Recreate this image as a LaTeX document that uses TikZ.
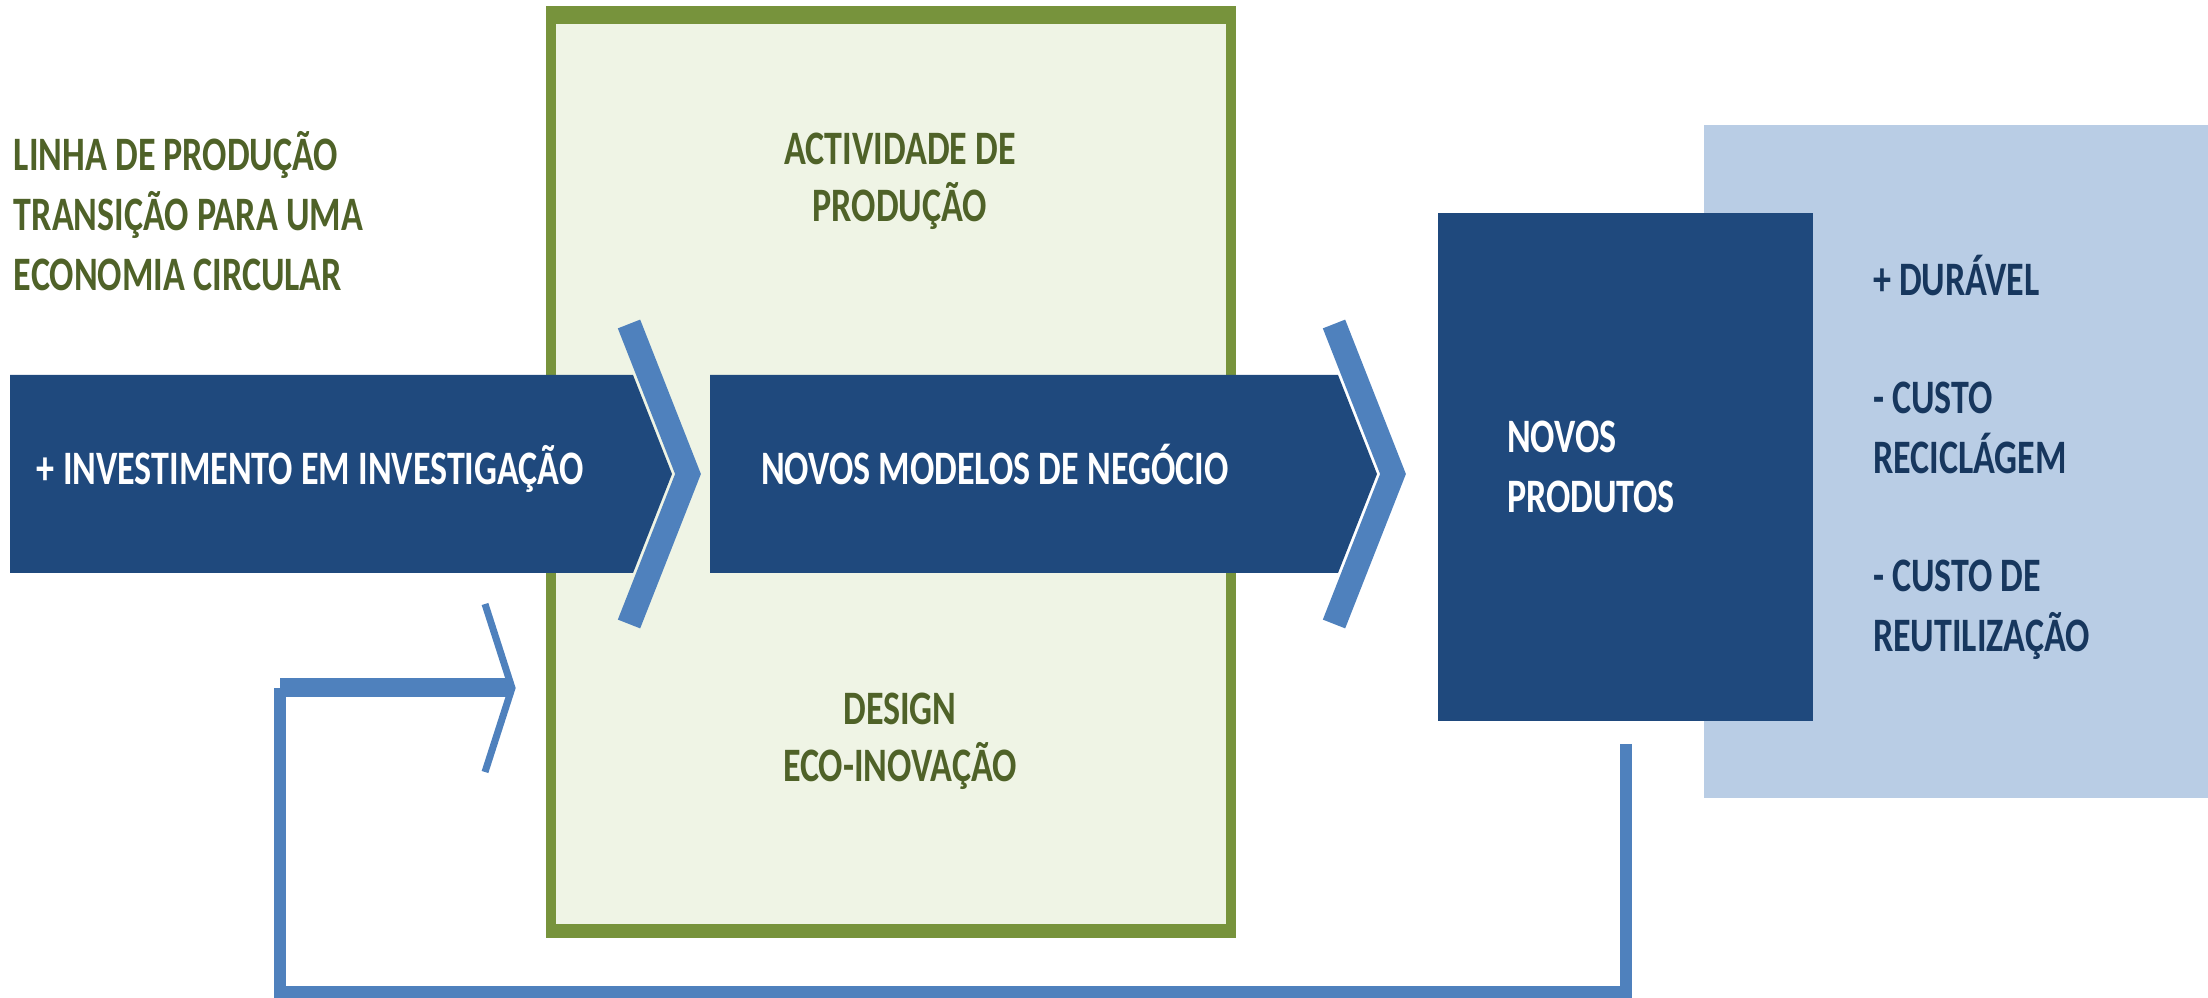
\documentclass[tikz,border=0pt]{standalone}
\usepackage{fontspec}
\setmainfont{Carlito}[FakeStretch=0.75]
\definecolor{darkblue}{HTML}{1F497D}
\definecolor{midblue}{HTML}{4F81BD}
\definecolor{lightblue}{HTML}{B9CDE5}
\definecolor{olivegreen}{HTML}{77933C}
\definecolor{palegreen}{HTML}{EFF4E5}
\definecolor{olivetext}{HTML}{4F6228}
\definecolor{navytext}{HTML}{17375E}
\begin{document}
\begin{tikzpicture}[x=0.01cm,y=-0.01cm,
  txt/.style={font=\fontsize{13.66}{17}\selectfont\bfseries, inner sep=0pt, outer sep=0pt},
  wtxt/.style={txt, text=white},
  otxt/.style={txt, text=olivetext},
  ntxt/.style={txt, text=navytext},
  chevron/.style={draw=midblue, line width=0.24cm, line join=miter, line cap=butt},
  thinchevron/.style={draw=midblue, line width=0.07cm, line join=miter, line cap=butt},
  feedback/.style={draw=midblue, line width=0.115cm, line join=miter, line cap=butt},
  feedbackbar/.style={draw=midblue, line width=0.19cm, line cap=butt},
  block/.style={fill=darkblue}]
\useasboundingbox (0,0) rectangle (2208,998);

% green box
\fill[olivegreen] (546,6) rectangle (1236,938);
\fill[palegreen] (556,24) rectangle (1226,924);

% dark blocks with chevron ends
\fill[block] (10,375) -- (633,375) -- (672,474) -- (633,573) -- (10,573) -- cycle;
\fill[block] (710,375) -- (1338,375) -- (1377,474) -- (1338,573) -- (710,573) -- cycle;

% chevrons
\draw[chevron] (629,324) -- (688,474) -- (629,624);
\draw[chevron] (1334,324) -- (1393,474) -- (1334,624);

% light blue panel and products block
\fill[lightblue] (1704,125) rectangle (2208,798);
\fill[block] (1438,213) rectangle (1813,721);

% feedback loop
\coordinate (fbstart) at (1626,744);
\coordinate (fbcorner) at (280,688);
\coordinate (fbend) at (512,688);
\draw[feedback] (fbstart) -- (1626,992) -- (280,992) -- (fbcorner);
\draw[feedbackbar] (fbcorner) -- (fbend);
\draw[thinchevron] (485,604) -- (fbend) -- (485,772);

% texts
\node[otxt, anchor=base west] (title1) at (14,171) {LINHA DE PRODUÇÃO};
\node[otxt, anchor=base west] (title2) at (14,231) {TRANSIÇÃO PARA UMA};
\node[otxt, anchor=base west] (title3) at (14,291) {ECONOMIA CIRCULAR};

\node[wtxt, anchor=base west] (invest) at (37,485) {+ INVESTIMENTO EM INVESTIGAÇÃO};
\node[wtxt, anchor=base west] (modelos) at (761,485) {NOVOS MODELOS DE NEGÓCIO};

\node[otxt, anchor=base] (activ1) at (900,165) {ACTIVIDADE DE};
\node[otxt, anchor=base] (activ2) at (900,222) {PRODUÇÃO};
\node[otxt, anchor=base] (design1) at (900,725) {DESIGN};
\node[otxt, anchor=base] (design2) at (900,782) {ECO-INOVAÇÃO};

\node[wtxt, anchor=base west] (prod1) at (1507,453) {NOVOS};
\node[wtxt, anchor=base west] (prod2) at (1507,513) {PRODUTOS};

\node[ntxt, anchor=base west] (dur) at (1873,296) {+ DURÁVEL};
\node[ntxt, anchor=base west] (rec1) at (1873,414) {- CUSTO};
\node[ntxt, anchor=base west] (rec2) at (1873,474) {RECICLÁGEM};
\node[ntxt, anchor=base west] (reu1) at (1873,592) {- CUSTO DE};
\node[ntxt, anchor=base west] (reu2) at (1873,652) {REUTILIZAÇÃO};
\end{tikzpicture}
\end{document}
